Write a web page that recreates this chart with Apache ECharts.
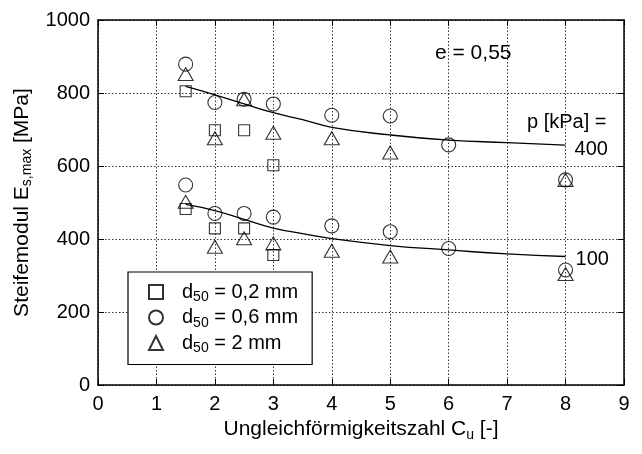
<!DOCTYPE html>
<html>
<head>
<meta charset="utf-8">
<script src="https://cdn.jsdelivr.net/npm/echarts@6/dist/echarts.min.js"></script>
<style>html,body{margin:0;padding:0;background:#fff}#c{width:642px;height:454px}</style>
</head>
<body>
<div id="c"></div>
<script>
// Data
const xTicks = [0, 9, 1];
const yTicks = [0, 1000, 200];
const sqX = [1.5, 2, 2.5, 3, 1.5, 2, 2.5, 3];
const sqY = [805, 698, 698, 602, 482, 429, 429, 356];
const ciX = [1.5, 2, 2.5, 3, 4, 5, 6, 8, 1.5, 2, 2.5, 3, 4, 5, 6, 8];
const ciY = [879, 774, 783, 770, 739, 737, 658, 562, 548, 470, 470, 460, 436, 420, 374, 315];
const trX = [1.5, 2, 2.5, 3, 4, 5, 8, 1.5, 2, 2.5, 3, 4, 5, 8];
const trY = [852, 676, 783, 691, 676, 637, 562, 502, 379, 402, 388, 368, 352, 304];
const fitX = [1.5, 2, 2.5, 3, 3.5, 4, 5, 6, 7, 8];
const fit400 = [818, 795, 770, 746, 727, 706, 685, 671, 664, 657];
const fit100 = [495, 478, 454, 430, 415, 401, 382, 370, 359, 352];
const legendNames = ['d50 = 0,2 mm', 'd50 = 0,6 mm', 'd50 = 2 mm'];
const legendRich = ['{d|d}{s|50}{a| = 0,2 mm}', '{d|d}{s|50}{a| = 0,6 mm}', '{d|d}{s|50}{a| = 2 mm}'];

const zip = (xs, ys) => xs.map((x, i) => [x, ys[i]]);
const FONT = 'Liberation Sans, Arial, Helvetica, sans-serif';
const black = '#000';

const chart = echarts.init(document.getElementById('c'), null, {renderer: 'canvas'});

const baseAxis = {
  axisLine: {show: true, onZero: false, lineStyle: {color: black, width: 1.5}},
  axisTick: {show: true, inside: true, length: 6, lineStyle: {color: black, width: 1}},
  splitLine: {show: false}
};

const markerStyle = {color: 'rgba(0,0,0,0)', borderColor: black, borderWidth: 1.1};

const option = {
  animation: false,
  backgroundColor: '#fff',
  textStyle: {fontFamily: FONT, color: black},
  grid: {left: 98, right: 18, top: 20, bottom: 69, containLabel: false},
  xAxis: [
    Object.assign({}, baseAxis, {
      type: 'value', min: xTicks[0], max: xTicks[1], interval: xTicks[2], position: 'bottom',
      axisLabel: {color: black, fontSize: 20, margin: 9, fontFamily: FONT},
      splitLine: {show: true, lineStyle: {color: black, type: [1.5, 2], width: 0.8}},
      name: 'Ungleichförmigkeitszahl C{s|u} [-]',
      nameLocation: 'middle', nameGap: 27,
      nameTextStyle: {color: black, fontSize: 21, fontFamily: FONT,
        rich: {s: {fontSize: 14, padding: [11, 0, 0, 0], fontFamily: FONT, color: black}}}
    }),
    Object.assign({}, baseAxis, {
      type: 'value', min: xTicks[0], max: xTicks[1], interval: xTicks[2], position: 'top',
      axisLabel: {show: false}
    })
  ],
  yAxis: [
    Object.assign({}, baseAxis, {
      type: 'value', min: yTicks[0], max: yTicks[1], interval: yTicks[2], position: 'left',
      axisLabel: {color: black, fontSize: 20, margin: 8, fontFamily: FONT, formatter: v => String(v)},
      splitLine: {show: true, lineStyle: {color: black, type: [1.5, 2], width: 0.8}},
      name: 'Steifemodul E{s|s,max} [MPa]',
      nameLocation: 'middle', nameGap: 62,
      nameTextStyle: {color: black, fontSize: 21, fontFamily: FONT,
        rich: {s: {fontSize: 14, padding: [11, 0, 0, 0], fontFamily: FONT, color: black}}}
    }),
    Object.assign({}, baseAxis, {
      type: 'value', min: yTicks[0], max: yTicks[1], interval: yTicks[2], position: 'right',
      axisLabel: {show: false}
    })
  ],
  legend: {
    orient: 'vertical', left: 128, top: 272,
    data: legendNames,
    backgroundColor: '#fff', borderColor: black, borderWidth: 1.2, borderRadius: 0,
    padding: [10, 14, 9, 20],
    itemWidth: 14, itemHeight: 14, itemGap: 3,
    formatter: name => legendRich[legendNames.indexOf(name)],
    textStyle: {color: black, fontSize: 20, fontFamily: FONT,
      rich: {
        d: {fontSize: 20, fontFamily: FONT, color: black, padding: [0, 0, 0, 14]},
        a: {fontSize: 20, fontFamily: FONT, color: black},
        s: {fontSize: 14, fontFamily: FONT, color: black, padding: [11, 0, 0, 0]}
      }}
  },
  graphic: [
    {type: 'text', left: 435, top: 43, style: {text: 'e = 0,55', font: '21px ' + FONT, fill: black}},
    {type: 'text', left: 527, top: 112, style: {text: 'p [kPa] =', font: '20px ' + FONT, fill: black}}
  ],
  series: [
    {name: 'fit400', type: 'line', data: zip(fitX, fit400), smooth: true, showSymbol: false,
     symbol: 'none', lineStyle: {color: black, width: 1.3}, z: 1, silent: true,
     endLabel: {show: true, formatter: '400', color: black, fontSize: 20, fontFamily: FONT, distance: 0, offset: [9, 4]}},
    {name: 'fit100', type: 'line', data: zip(fitX, fit100), smooth: true, showSymbol: false,
     symbol: 'none', lineStyle: {color: black, width: 1.3}, z: 1, silent: true,
     endLabel: {show: true, formatter: '100', color: black, fontSize: 20, fontFamily: FONT, distance: 0, offset: [10, 3]}},
    {name: legendNames[0], type: 'scatter', data: zip(sqX, sqY), symbol: 'rect', symbolSize: 11,
     itemStyle: markerStyle, z: 3},
    {name: legendNames[1], type: 'scatter', data: zip(ciX, ciY), symbol: 'circle', symbolSize: 14,
     itemStyle: markerStyle, z: 3},
    {name: legendNames[2], type: 'scatter', data: zip(trX, trY), symbol: 'triangle', symbolSize: [15, 13],
     itemStyle: markerStyle, z: 3}
  ]
};
chart.setOption(option);
</script>
</body>
</html>
